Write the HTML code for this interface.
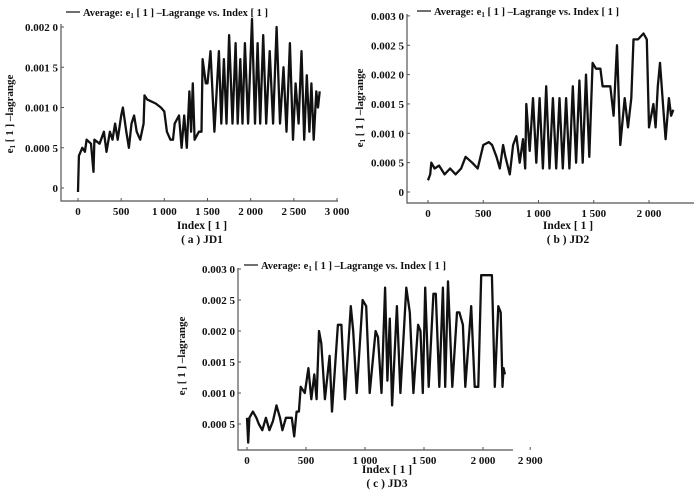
<!DOCTYPE html>
<html><head><meta charset="utf-8"><style>
html,body{margin:0;padding:0;background:#fff;}
svg{display:block;font-family:"Liberation Serif",serif;font-weight:bold;}
text{fill:#111;}
</style></head><body>
<svg id="fig" width="700" height="498" viewBox="0 0 700 498"></svg>
<script>
// ---------- data ----------
const jd1Index=[0,10,50,80,100,150,180,190,250,300,330,370,400,430,460,500,520,560,590,620,650,680,720,760,770,800,900,960,1000,1030,1070,1100,1120,1170,1200,1230,1260,1290,1310,1330,1350,1400,1430,1443,1480,1500,1535,1580,1632,1660,1690,1720,1750,1790,1825,1850,1880,1905,1933,1970,2016,2050,2080,2110,2145,2180,2220,2260,2300,2340,2380,2415,2454,2490,2520,2555,2589,2620,2650,2680,2704,2730,2760,2780,2800];
const jd1Value=[-0.00005,0.0004,0.0005,0.00045,0.0006,0.00055,0.0002,0.0006,0.00055,0.0007,0.00045,0.0007,0.0006,0.0008,0.0006,0.0009,0.001,0.0007,0.0005,0.0008,0.0009,0.0007,0.0006,0.0008,0.00115,0.0011,0.00105,0.001,0.00095,0.0007,0.0006,0.0006,0.0008,0.0009,0.0005,0.0009,0.0005,0.0012,0.0007,0.0013,0.0006,0.0007,0.0007,0.0016,0.0013,0.0013,0.0017,0.0007,0.0017,0.0008,0.0016,0.0008,0.0019,0.0008,0.0018,0.0008,0.0016,0.0008,0.0018,0.0008,0.0021,0.0008,0.0018,0.0008,0.0019,0.0008,0.0017,0.0008,0.002,0.0008,0.0015,0.0007,0.0018,0.0006,0.0013,0.0008,0.0017,0.0006,0.0014,0.0007,0.0013,0.0006,0.0012,0.001,0.0012];
const jd2Index=[0,20,30,60,100,150,200,250,300,340,400,450,500,550,580,620,650,680,700,740,770,800,830,860,880,890,920,950,980,1010,1040,1070,1100,1130,1160,1190,1220,1250,1280,1310,1340,1370,1400,1430,1460,1490,1520,1560,1580,1650,1680,1710,1740,1780,1810,1840,1860,1900,1950,1980,2000,2040,2060,2080,2100,2130,2150,2180,2200,2220];
const jd2Value=[0.0002,0.0003,0.0005,0.0004,0.00045,0.0003,0.0004,0.0003,0.0004,0.0006,0.0005,0.0004,0.0008,0.00085,0.0008,0.0006,0.0004,0.0008,0.0006,0.0003,0.0008,0.00095,0.0005,0.0009,0.0004,0.0015,0.0007,0.0016,0.0005,0.0016,0.0004,0.0018,0.0004,0.0016,0.0004,0.0016,0.0004,0.0016,0.0004,0.0018,0.0005,0.0019,0.0005,0.002,0.0006,0.0022,0.0021,0.0021,0.0018,0.0018,0.0013,0.0025,0.0008,0.0016,0.0011,0.0016,0.0026,0.0026,0.0027,0.0026,0.0011,0.0015,0.0011,0.0018,0.0022,0.0014,0.0009,0.0016,0.0013,0.0014];
const jd3Index=[0,10,20,50,80,100,130,160,190,220,250,280,300,330,380,400,420,440,455,490,520,545,570,590,610,630,660,700,720,770,800,830,880,900,930,980,1010,1040,1090,1110,1140,1170,1190,1210,1230,1270,1300,1350,1380,1410,1450,1470,1490,1510,1540,1580,1600,1630,1660,1680,1703,1740,1780,1800,1830,1850,1900,1930,1960,1985,2030,2075,2100,2130,2150,2165,2175,2186];
const jd3Value=[0.0006,0.0002,0.0006,0.0007,0.0006,0.0005,0.0004,0.0006,0.0004,0.00055,0.0008,0.0006,0.0004,0.0006,0.0006,0.0003,0.0007,0.0007,0.0011,0.001,0.0014,0.0009,0.0013,0.0009,0.002,0.0018,0.0009,0.0016,0.0007,0.0021,0.0021,0.0009,0.0024,0.002,0.001,0.0025,0.0024,0.001,0.002,0.0019,0.001,0.0027,0.0012,0.0022,0.0008,0.0024,0.001,0.0027,0.0023,0.001,0.0021,0.002,0.001,0.0027,0.0011,0.0026,0.0026,0.0011,0.0027,0.0011,0.0028,0.0011,0.0023,0.0023,0.0021,0.0011,0.0024,0.0011,0.0011,0.0029,0.0029,0.0029,0.0011,0.0024,0.0023,0.0011,0.0014,0.0013];
const jd1XTicks=[0,500,1000,1500,2000,2500,3000];
const jd1XLabels=["0","500","1 000","1 500","2 000","2 500","3 000"];
const jd1YTicks=[0,0.0005,0.001,0.0015,0.002];
const jd1YLabels=["0","0.000 5","0.001 0","0.001 5","0.002 0"];
const jd2XTicks=[0,500,1000,1500,2000];
const jd2XLabels=["0","500","1 000","1 500","2 000"];
const jd2YTicks=[0,0.0005,0.001,0.0015,0.002,0.0025,0.003];
const jd2YLabels=["0","0.000 5","0.001 0","0.001 5","0.002 0","0.002 5","0.003 0"];
const jd3XTicks=[0,500,1000,1500,2000,2400];
const jd3XLabels=["0","500","1 000","1 500","2 000","2 900"];
const jd3YTicks=[0.0005,0.001,0.0015,0.002,0.0025,0.003];
const jd3YLabels=["0.000 5","0.001 0","0.001 5","0.002 0","0.002 5","0.003 0"];

const NS="http://www.w3.org/2000/svg";
const fig=document.getElementById('fig');
function mk(tag,attrs,parent){const e=document.createElementNS(NS,tag);for(const k in attrs)e.setAttribute(k,attrs[k]);(parent||fig).appendChild(e);return e;}

function drawChart(c){
  const g=mk('g',{});
  
  
  const xs=i=>c.x0+i*c.kx;
  const ys=v=>c.y0-v*c.ky;
  const ax=mk('path',{d:`M${c.axL},${c.axT} V${c.axB} H${c.axR}`,stroke:'#555',fill:'none','stroke-width':1.2},g);
  
  
  c.xt.forEach((t,i)=>{
    const x=xs(t);
    mk('line',{x1:x,x2:x,y1:c.axB,y2:c.axB-3,stroke:'#555'},g);
    const tx=mk('text',{x:x,y:c.axB+14,'text-anchor':'middle','font-size':11},g);
    tx.textContent=c.xl[i];
    
    
  });
  c.yt.forEach((t,i)=>{
    const y=ys(t);
    mk('line',{x1:c.axL,x2:c.axL+3,y1:y,y2:y,stroke:'#555'},g);
    const tx=mk('text',{x:c.axL-3,y:y+4,'text-anchor':'end','font-size':11},g);
    tx.textContent=c.yl[i];
    
    
  });
  let d='';
  c.idx.forEach((v,i)=>{d+=(i?'L':'M')+xs(v).toFixed(1)+','+ys(c.val[i]).toFixed(1)+' ';});
  const p=mk('path',{d:d,stroke:'#111',fill:'none','stroke-width':2.3,'stroke-linejoin':'round'},g);
  
  
  mk('line',{x1:c.lx,x2:c.lx+14,y1:c.ly-4,y2:c.ly-4,stroke:'#111','stroke-width':1.2},g);
  const lt=mk('text',{x:c.lx+17,y:c.ly,'font-size':10.5},g);
  lt.innerHTML='Average: e<tspan font-size="7" dy="2">1</tspan><tspan dy="-2"> [ 1 ] –Lagrange vs. Index [ 1 ]</tspan>';
  
  
  const xt=mk('text',{x:c.xtx,y:c.xty,'text-anchor':'middle','font-size':11.5},g);
  xt.textContent='Index [ 1 ]';
  
  
  const yt=mk('text',{x:0,y:0,'text-anchor':'middle','font-size':11,transform:`translate(${c.ytx},${c.yty}) rotate(-90)`},g);
  yt.innerHTML='e<tspan font-size="7" dy="2">1</tspan><tspan dy="-2"> [ 1 ] –lagrange</tspan>';
  
  
  const cp=mk('text',{x:c.xtx,y:c.xty+14,'text-anchor':'middle','font-size':11.5},g);
  cp.textContent=c.cap;
  
  
}
drawChart({name:'chart-jd1',idx:jd1Index,val:jd1Value,xt:jd1XTicks,xl:jd1XLabels,yt:jd1YTicks,yl:jd1YLabels,
  x0:78,kx:259/3000,y0:188,ky:80500,axL:61,axT:24,axB:201,axR:338,lx:66,ly:16,xtx:202,xty:229,ytx:13,yty:114,cap:'( a ) JD1'});
drawChart({name:'chart-jd2',idx:jd2Index,val:jd2Value,xt:jd2XTicks,xl:jd2XLabels,yt:jd2YTicks,yl:jd2YLabels,
  x0:428,kx:221/2000,y0:192,ky:58700,axL:407,axT:14,axB:203,axR:694,lx:417,ly:15,xtx:568,xty:229,ytx:363,yty:108,cap:'( b ) JD2'});
drawChart({name:'chart-jd3',idx:jd3Index,val:jd3Value,xt:jd3XTicks,xl:jd3XLabels,yt:jd3YTicks,yl:jd3YLabels,
  x0:247,kx:236/2000,y0:455,ky:62000,axL:238,axT:268,axB:450,axR:513,lx:244,ly:269,xtx:387,xty:473,ytx:185,yty:356,cap:'( c ) JD3'});
</script>
</body></html>
